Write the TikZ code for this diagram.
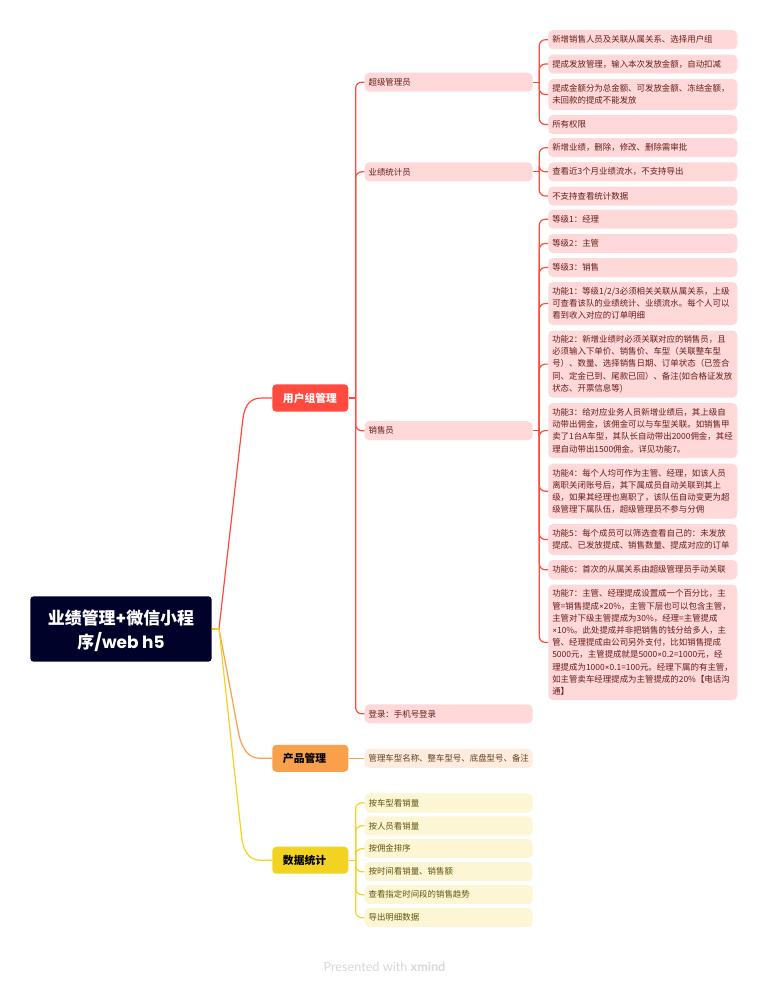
\documentclass[tikz,border=0pt]{standalone}
\usepackage{fontspec}
\setmainfont{Noto Sans CJK SC}
\newfontfamily\latinfont{Poppins}
\newfontfamily\markfont{Lato}
\newcommand{\tm}{{\latinfont\fontsize{5.6}{9.15}\selectfont ×}}
\definecolor{navy}{HTML}{000229}
\definecolor{redmain}{HTML}{FF4A40}
\definecolor{redlight}{HTML}{FFD9D9}
\definecolor{redtext}{HTML}{661D19}
\definecolor{orgmain}{HTML}{F9A04C}
\definecolor{orglight}{HTML}{FEECDF}
\definecolor{orgtext}{HTML}{643F1E}
\definecolor{yelmain}{HTML}{F3D321}
\definecolor{yellight}{HTML}{FCF6D5}
\definecolor{yeltext}{HTML}{61540D}
\definecolor{marktext}{HTML}{D8D8D8}
\tikzset{
  x=0.75pt,y=-0.75pt,
  rootbox/.style={draw=none,fill=navy,rounded corners=2.5pt,text=white,font=\bfseries\fontsize{12.7}{18.4}\selectfont,align=center,inner sep=0pt},
  mainbox/.style={draw=none,fill=#1,rounded corners=3pt,font=\bfseries\fontsize{8.1}{10}\selectfont,inner sep=0pt,minimum width=76*0.75pt,minimum height=27*0.75pt,text width=76*0.75pt-16pt,align=left},
  conn/.style={draw=#1,line width=0.9pt,rounded corners=4.5pt},
  curve/.style={draw=#1,line width=0.9pt},
  lvtwo/.style={draw=none,fill=#1,rounded corners=3.5pt,font=\fontsize{6.33}{9.15}\selectfont,inner sep=0pt,minimum width=168*0.75pt,minimum height=19*0.75pt,text width=168*0.75pt-6pt,align=left,anchor=west},
  lvthree/.style={draw=none,fill=redlight,text=redtext,rounded corners=3.5pt,font=\fontsize{6.33}{9.15}\selectfont,inner sep=0pt,minimum width=189*0.75pt,minimum height=#1*0.75pt,text width=189*0.75pt-6pt,align=left,anchor=west},
  lvthree/.default=19,
}
\newcommand{\stub}[3]{\draw[curve=#1] (#2.east) -- (#2.east -| #3);}
\newcommand{\elbow}[4]{\draw[conn=#1] (#2.east -| #3) |- (#4.west);}
\begin{document}
\begin{tikzpicture}
\useasboundingbox (0,0) rectangle (767,1000);
\fill[white] (0,0) rectangle (767,1000);
\coordinate (trunkB) at (355.7,0);
\coordinate (trunkC) at (539.3,0);
\coordinate (fork) at (219,628.7);
\coordinate (rA) at (243,418);
\coordinate (rB) at (238,730);
\coordinate (rC) at (241.5,836);

% level 1
\node[rootbox,minimum width=181.4*0.75pt,minimum height=65.4*0.75pt] (root) at (121,629) {\rule{0pt}{13.5pt}业绩管理{\latinfont +}微信小程\\序{\latinfont /web h5}};
\node[mainbox=redmain,text=white,minimum height=27.4*0.75pt] (mU) at (310.3,398) {用户组管理};
\node[mainbox=orgmain,text=black] (mP) at (310.3,758.3) {产品管理};
\node[mainbox=yelmain,text=black] (mD) at (310.3,860.2) {数据统计};

% level 2
\node[lvtwo=redlight,text=redtext] (sA) at (364.3,82.2) {超级管理员};
\node[lvtwo=redlight,text=redtext] (sB) at (364.3,171.8) {业绩统计员};
\node[lvtwo=redlight,text=redtext] (sC) at (364.3,430.7) {销售员};
\node[lvtwo=redlight,text=redtext] (sD) at (364.3,713.8) {登录：手机号登录};
\node[lvtwo=orglight,text=orgtext] (pA) at (364.3,758.3) {管理车型名称、整车型号、底盘型号、备注};
\node[lvtwo=yellight,text=yeltext] (dA) at (364.3,802.8) {按车型看销量};
\node[lvtwo=yellight,text=yeltext] (dB) at (364.3,825.8) {按人员看销量};
\node[lvtwo=yellight,text=yeltext] (dC) at (364.3,848.7) {按佣金排序};
\node[lvtwo=yellight,text=yeltext] (dD) at (364.3,871.7) {按时间看销量、销售额};
\node[lvtwo=yellight,text=yeltext] (dE) at (364.3,894.7) {查看指定时间段的销售趋势};
\node[lvtwo=yellight,text=yeltext] (dF) at (364.3,917.7) {导出明细数据};

% level 3
\node[lvthree] (a1) at (548,39.7) {新增销售人员及关联从属关系、选择用户组};
\node[lvthree] (a2) at (548,64) {提成发放管理，输入本次发放金额，自动扣减};
\node[lvthree=31] (a3) at (548,94.5) {提成金额分为总金额、可发放金额、冻结金额，\\未回款的提成不能发放};
\node[lvthree] (a4) at (548,124.5) {所有权限};
\node[lvthree] (b1) at (548,147.7) {新增业绩，删除，修改、删除需审批};
\node[lvthree] (b2) at (548,171.8) {查看近3个月业绩流水，不支持导出};
\node[lvthree] (b3) at (548,196) {不支持查看统计数据};
\node[lvthree] (c1) at (548,219.2) {等级1：经理};
\node[lvthree] (c2) at (548,243.4) {等级2：主管};
\node[lvthree] (c3) at (548,267.5) {等级3：销售};
\node[lvthree=43] (c4) at (548,303.5) {功能1：等级1/2/3必须相关关联从属关系，上级\\可查看该队的业绩统计、业绩流水。每个人可以\\看到收入对应的订单明细};
\node[lvthree=67.2] (c5) at (548,364.1) {功能2：新增业绩时必须关联对应的销售员，且\\必须输入下单价、销售价、车型（关联整车型\\号）、数量、选择销售日期、订单状态（已签合\\同、定金已到、尾款已回）、备注(如合格证发放\\状态、开票信息等)};
\node[lvthree=55] (c6) at (548,430.6) {功能3：给对应业务人员新增业绩后，其上级自\\动带出佣金，该佣金可以与车型关联。如销售甲\\卖了1台A车型，其队长自动带出2000佣金，其经\\理自动带出1500佣金。详见功能7。};
\node[lvthree=55] (c7) at (548,491.2) {功能4：每个人均可作为主管、经理，如该人员\\离职关闭账号后，其下属成员自动关联到其上\\级，如果其经理也离职了，该队伍自动变更为超\\级管理下属队伍，超级管理员不参与分佣};
\node[lvthree=31] (c8) at (548,539.5) {功能5：每个成员可以筛选查看自己的：未发放\\提成、已发放提成、销售数量、提成对应的订单};
\node[lvthree=19.4] (c9) at (548,569.8) {功能6：首次的从属关系由超级管理员手动关联};
\node[lvthree=115.4] (c10) at (548,642.4) {功能7：主管、经理提成设置成一个百分比，主\\管=销售提成\tm 20\%，主管下层也可以包含主管，\\主管对下级主管提成为30\%，经理=主管提成\\\tm 10\%。此处提成并非把销售的钱分给多人，主\\管、经理提成由公司另外支付，比如销售提成\\5000元，主管提成就是5000\tm 0.2=1000元，经\\理提成为1000\tm 0.1=100元。经理下属的有主管，\\如主管卖车经理提成为主管提成的20\%【电话沟\\通】};

% connectors root -> main
\draw[curve=redmain] (root.east) -- (fork) -- (rA) .. controls (245,405) and (250,398) .. (262,398) -- (mU.west);
\draw[curve=orgmain] (root.east) -- (fork) -- (rB) .. controls (241,748) and (248,758.3) .. (260,758.3) -- (mP.west);
\draw[curve=yelmain] (root.east) -- (fork) -- (rC) .. controls (243,851) and (249,860.2) .. (260,860.2) -- (mD.west);

% connectors main -> level 2
\stub{redmain}{mU}{trunkB}
\foreach \c in {sA,sB,sC,sD}{\elbow{redmain}{mU}{trunkB}{\c}}
\draw[curve=orgmain] (mP.east) -- (pA.west);
\stub{yelmain}{mD}{trunkB}
\foreach \c in {dA,dB,dC,dD,dE,dF}{\elbow{yelmain}{mD}{trunkB}{\c}}

% connectors level 2 -> level 3
\stub{redmain}{sA}{trunkC}
\foreach \c in {a1,a2,a3,a4}{\elbow{redmain}{sA}{trunkC}{\c}}
\stub{redmain}{sB}{trunkC}
\foreach \c in {b1,b2,b3}{\elbow{redmain}{sB}{trunkC}{\c}}
\stub{redmain}{sC}{trunkC}
\foreach \c in {c1,c2,c3,c4,c5,c6,c7,c8,c9,c10}{\elbow{redmain}{sC}{trunkC}{\c}}

\node[text=marktext,font=\fontsize{9.5}{11}\selectfont\markfont,inner sep=0pt] (mark) at (384.5,967) {Presented with {\bfseries xmind}};
\end{tikzpicture}
\end{document}
